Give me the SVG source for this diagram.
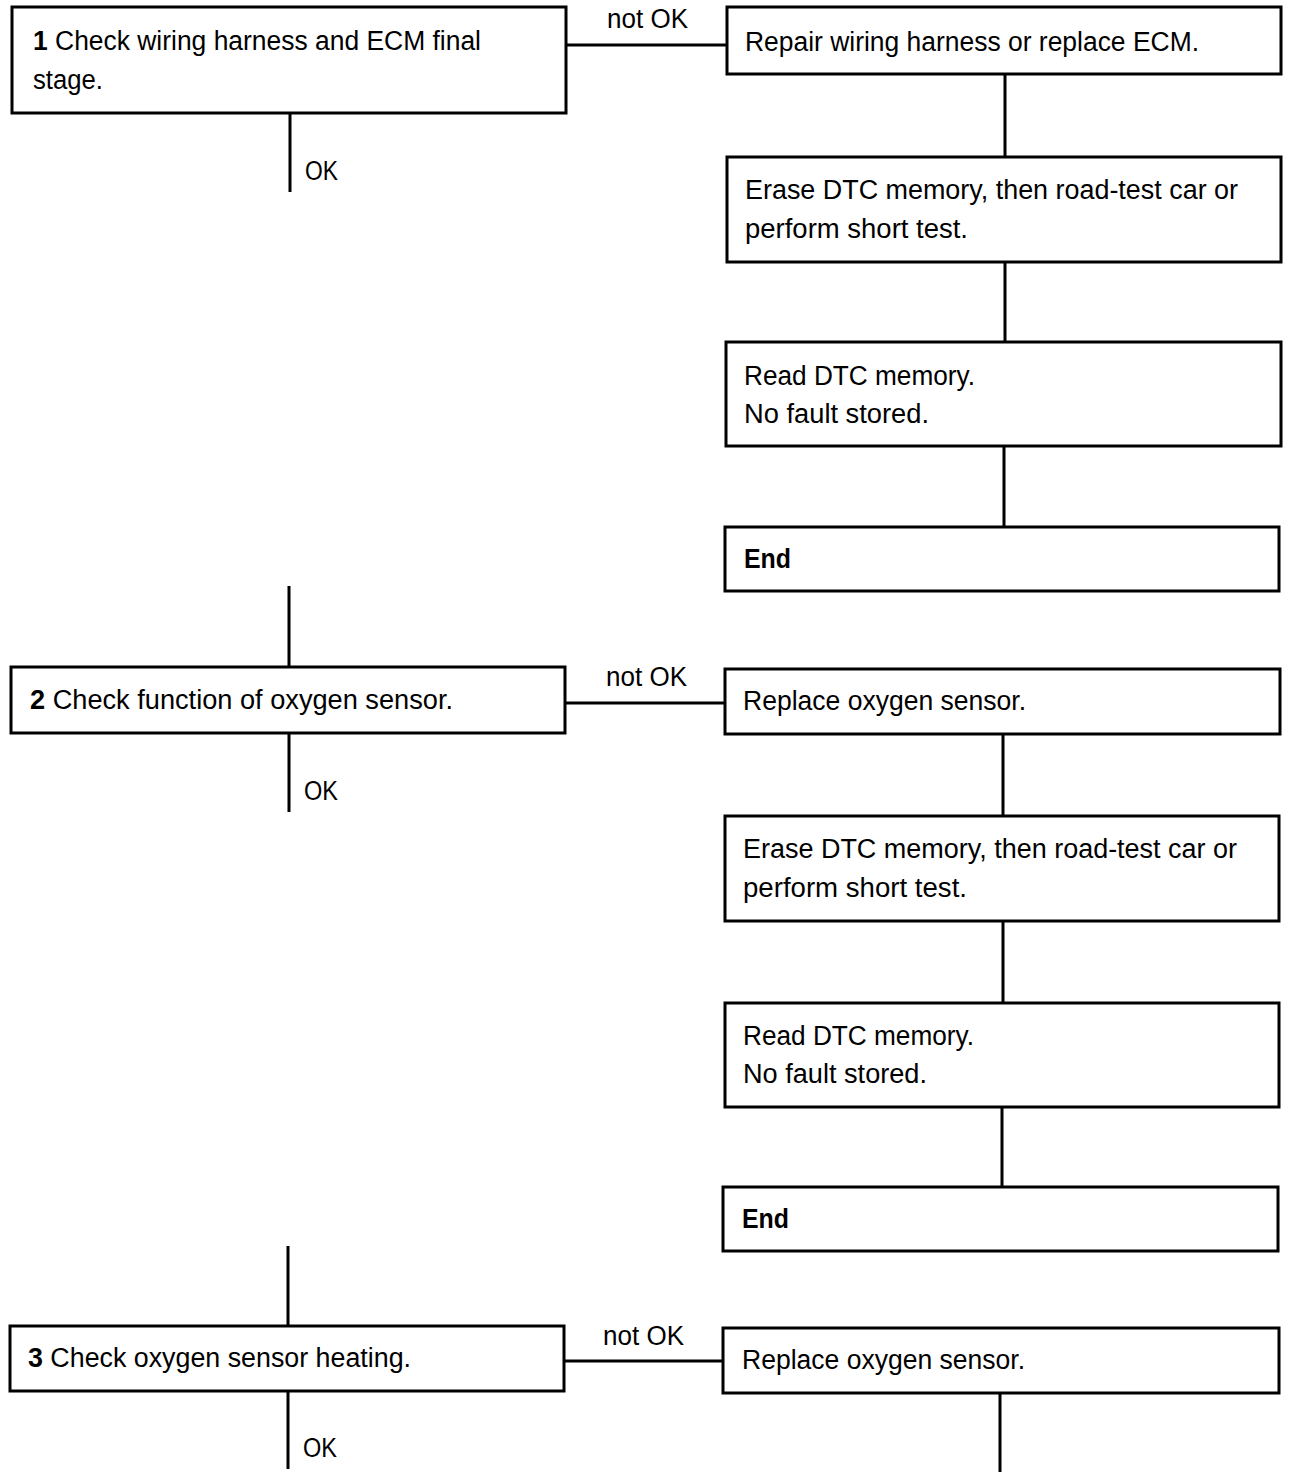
<svg xmlns="http://www.w3.org/2000/svg" width="1296" height="1478" viewBox="0 0 1296 1478">
<style>
.box{fill:#fff;stroke:#000;stroke-width:3}
.ln{fill:none;stroke:#000;stroke-width:3}
text{font-family:"Liberation Sans",Arial,sans-serif;font-size:27px;fill:#000}
.b{font-weight:bold}
</style>
<rect width="1296" height="1478" fill="#fff"/>
<g id="connectors">
<path class="ln" d="M290 113V192M566 45H727M1005 74V157M1005 262V342M1004 446V527"/>
<path class="ln" d="M289 586V667M565 703H725M289 733V812M1003 734V816M1003 921V1003M1002 1107V1187"/>
<path class="ln" d="M288 1246V1326M564 1361H723M288 1391V1469M1000 1393V1472"/>
<text x="305" y="180" textLength="33" lengthAdjust="spacingAndGlyphs">OK</text>
<text x="607" y="28" textLength="81" lengthAdjust="spacingAndGlyphs">not OK</text>
<text x="606" y="686" textLength="81" lengthAdjust="spacingAndGlyphs">not OK</text>
<text x="304" y="800" textLength="34" lengthAdjust="spacingAndGlyphs">OK</text>
<text x="603" y="1345" textLength="81" lengthAdjust="spacingAndGlyphs">not OK</text>
<text x="303" y="1457" textLength="34" lengthAdjust="spacingAndGlyphs">OK</text>
</g>
<g id="n1"><rect class="box" x="12" y="7" width="554" height="106"/>
<text x="33" y="50" textLength="448" lengthAdjust="spacingAndGlyphs"><tspan class="b">1</tspan> Check wiring harness and ECM final</text>
<text x="33" y="89" textLength="70" lengthAdjust="spacingAndGlyphs">stage.</text></g>
<g id="n1a"><rect class="box" x="727" y="7" width="554" height="67"/>
<text x="745" y="51" textLength="454" lengthAdjust="spacingAndGlyphs">Repair wiring harness or replace ECM.</text></g>
<g id="n1b"><rect class="box" x="727" y="157" width="554" height="105"/>
<text x="745" y="199" textLength="493" lengthAdjust="spacingAndGlyphs">Erase DTC memory, then road-test car or</text>
<text x="745" y="238" textLength="223" lengthAdjust="spacingAndGlyphs">perform short test.</text></g>
<g id="n1c"><rect class="box" x="726" y="342" width="555" height="104"/>
<text x="744" y="385" textLength="231" lengthAdjust="spacingAndGlyphs">Read DTC memory.</text>
<text x="744" y="423" textLength="185" lengthAdjust="spacingAndGlyphs">No fault stored.</text></g>
<g id="n1d"><rect class="box" x="725" y="527" width="554" height="64"/>
<text class="b" x="744" y="568" textLength="47" lengthAdjust="spacingAndGlyphs">End</text></g>
<g id="n2"><rect class="box" x="11" y="667" width="554" height="66"/>
<text x="30" y="709" textLength="423" lengthAdjust="spacingAndGlyphs"><tspan class="b">2</tspan> Check function of oxygen sensor.</text></g>
<g id="n2a"><rect class="box" x="725" y="669" width="555" height="65"/>
<text x="743" y="710" textLength="283" lengthAdjust="spacingAndGlyphs">Replace oxygen sensor.</text></g>
<g id="n2b"><rect class="box" x="725" y="816" width="554" height="105"/>
<text x="743" y="858" textLength="494" lengthAdjust="spacingAndGlyphs">Erase DTC memory, then road-test car or</text>
<text x="743" y="897" textLength="224" lengthAdjust="spacingAndGlyphs">perform short test.</text></g>
<g id="n2c"><rect class="box" x="725" y="1003" width="554" height="104"/>
<text x="743" y="1045" textLength="231" lengthAdjust="spacingAndGlyphs">Read DTC memory.</text>
<text x="743" y="1083" textLength="184" lengthAdjust="spacingAndGlyphs">No fault stored.</text></g>
<g id="n2d"><rect class="box" x="723" y="1187" width="555" height="64"/>
<text class="b" x="742" y="1228" textLength="47" lengthAdjust="spacingAndGlyphs">End</text></g>
<g id="n3"><rect class="box" x="10" y="1326" width="554" height="65"/>
<text x="28" y="1367" textLength="383" lengthAdjust="spacingAndGlyphs"><tspan class="b">3</tspan> Check oxygen sensor heating.</text></g>
<g id="n3a"><rect class="box" x="723" y="1328" width="556" height="65"/>
<text x="742" y="1369" textLength="283" lengthAdjust="spacingAndGlyphs">Replace oxygen sensor.</text></g>
</svg>
